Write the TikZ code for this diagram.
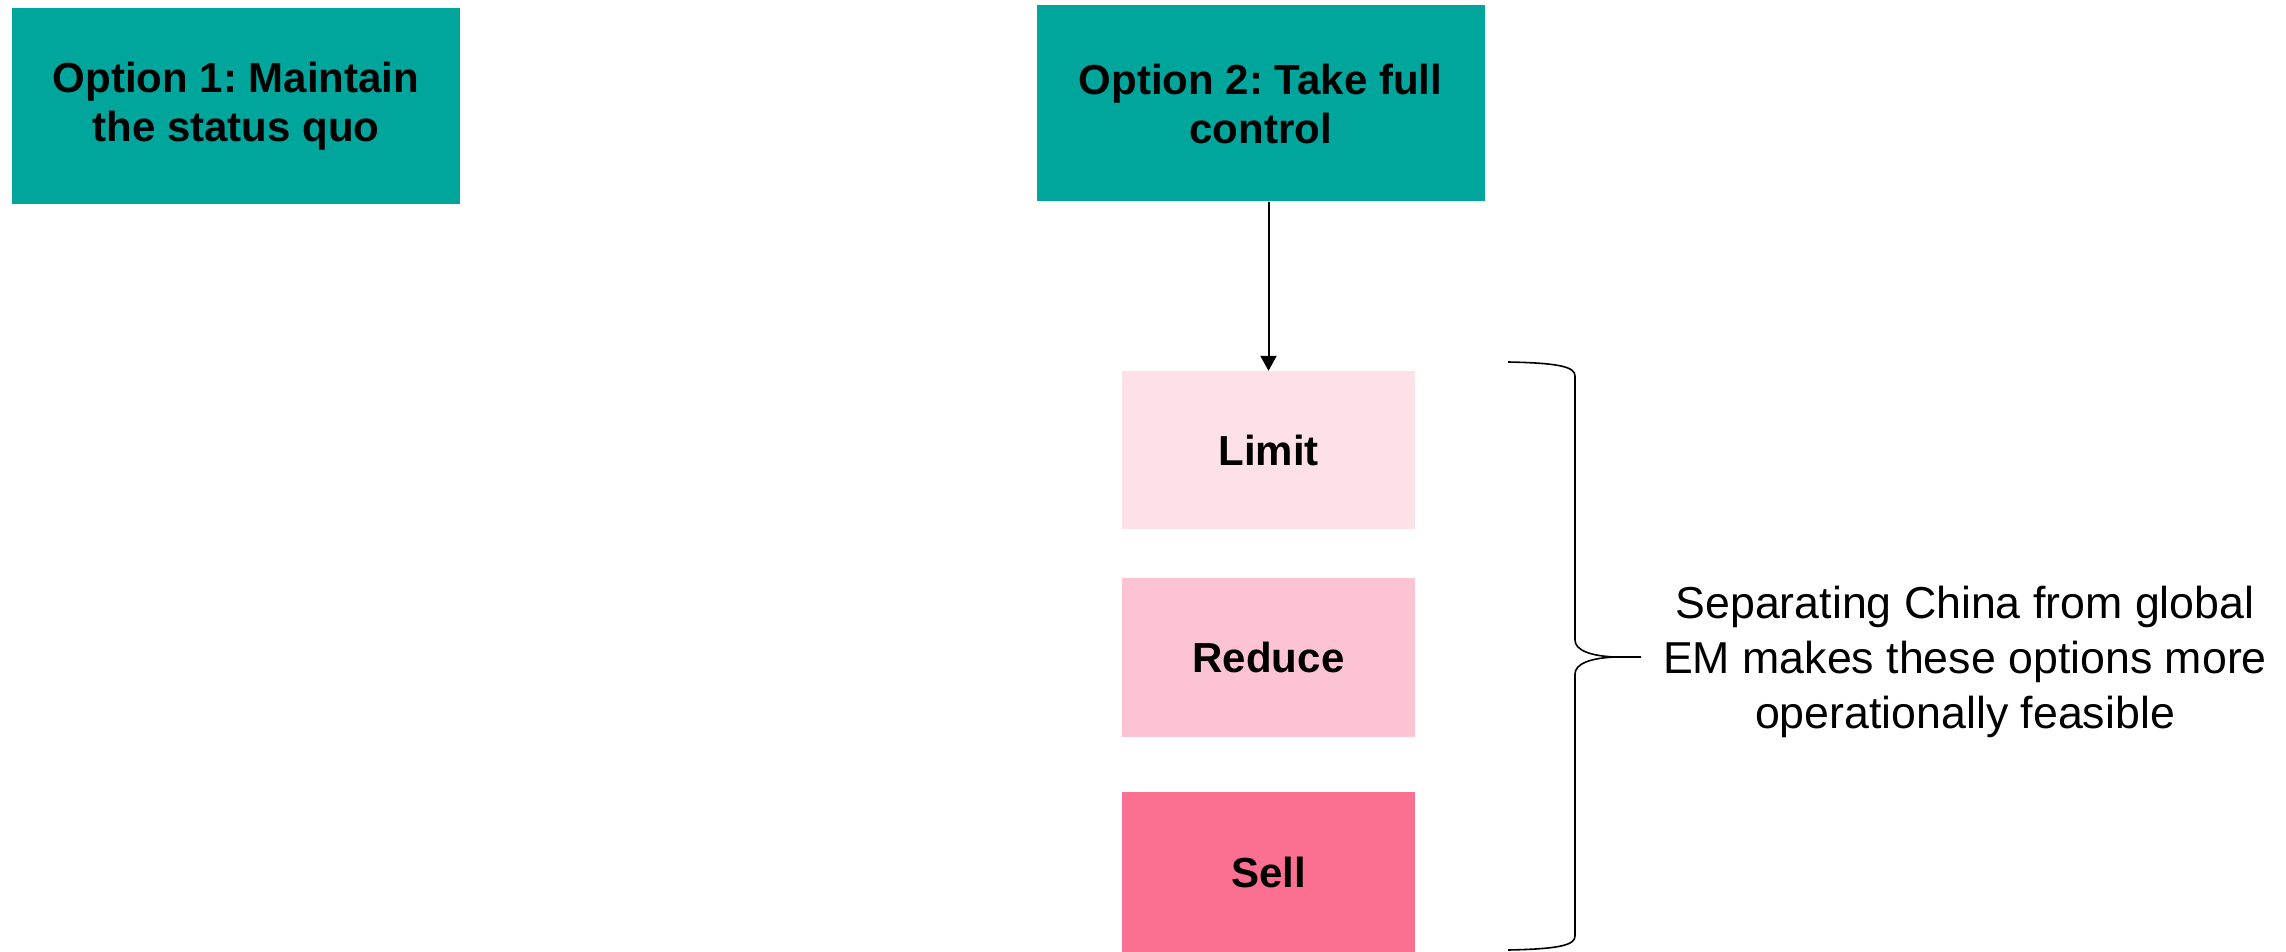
\documentclass[tikz,border=0pt]{standalone}
\usepackage{fontspec}
\setmainfont{Liberation Sans}
\usetikzlibrary{arrows.meta}
\definecolor{teal1}{RGB}{0,166,156}
\definecolor{pink1}{RGB}{253,224,232}
\definecolor{pink2}{RGB}{251,195,211}
\definecolor{pink3}{RGB}{251,112,144}
\tikzset{
  optbox/.style={fill=teal1, draw=none, minimum width=448pt, minimum height=196pt, align=center, inner sep=0pt,
    font=\fontsize{42}{49}\selectfont\bfseries},
  actbox/.style={draw=none, minimum width=293pt, minimum height=158pt, inner sep=0pt,
    font=\fontsize{42}{49}\selectfont\bfseries},
  note/.style={align=center, inner sep=0pt, font=\fontsize{44.7}{54.7}\selectfont},
  arr/.style={line width=2pt, -{Triangle[length=15pt,width=16pt]}},
  bracestyle/.style={line width=1.6pt}
}
\begin{document}
\frenchspacing
\begin{tikzpicture}[x=1pt,y=-1pt]
\useasboundingbox (0,0) rectangle (2286,952);
\node[optbox] (opt1) at (236,106) {Option 1: Maintain\\the status quo};
\node[optbox] (opt2) at (1260.5,103.5) {Option 2: Take full\\control};
\node[actbox, fill=pink1] (limit) at (1268.5,450) {Limit};
\node[actbox, fill=pink2, minimum height=159pt] (reduce) at (1268.5,657.5) {Reduce};
\node[actbox, fill=pink3, minimum height=160pt] (sell) at (1268.5,872) {Sell};
\draw[arr] (opt2.south -| limit.north) -- (limit.north);
\node[note] (txt) at (1965,662) {Separating China from global\\EM makes these options more\\operationally feasible};
\coordinate (btop) at (1508,362);
\coordinate (btip) at (1641,657);
\coordinate (bbot) at (1508,950);
\draw[bracestyle] (btop) .. controls (1560,363) and (1575,367) .. (1575,376)
  -- (1575,640) .. controls (1575,650) and (1590,656) .. (1615,657) -- (btip)
  (1615,657) .. controls (1590,658) and (1575,664) .. (1575,674)
  -- (1575,936) .. controls (1575,945) and (1560,949) .. (bbot);
\end{tikzpicture}
\end{document}
